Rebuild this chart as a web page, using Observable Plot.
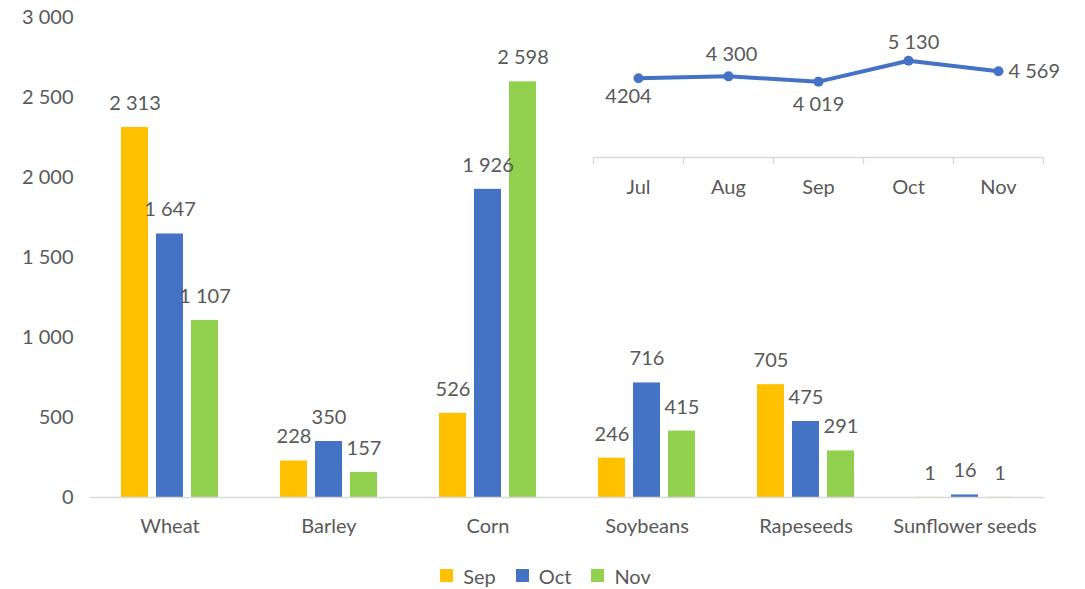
<!DOCTYPE html>
<html>
<head>
<meta charset="utf-8">
<script src="https://cdn.jsdelivr.net/npm/d3@7"></script>
<script src="https://cdn.jsdelivr.net/npm/@observablehq/plot@0.6"></script>
<style>
  html, body { margin: 0; padding: 0; background: #fff; }
  #wrap { position: relative; width: 1085px; height: 589px; font-family: Lato, "Open Sans", sans-serif; }
  #inset { position: absolute; left: 583px; top: 20px; }
  #legend { position: absolute; left: 0; top: 559px; width: 1085px; padding-left: 26px; box-sizing: border-box; display: flex; justify-content: center; }
</style>
</head>
<body>
<div id="wrap"><div id="main"></div><div id="inset"></div><div id="legend"></div></div>
<script>
// ---- data ----
const crops = ["Wheat", "Barley", "Corn", "Soybeans", "Rapeseeds", "Sunflower seeds"];
const months = ["Sep", "Oct", "Nov"];
const sepValues = [2313, 228, 526, 246, 705, 1];
const octValues = [1647, 350, 1926, 716, 475, 16];
const novValues = [1107, 157, 2598, 415, 291, 1];
const yTicks = [0, 500, 1000, 1500, 2000, 2500, 3000];
const colors = ["#FFC000", "#4472C4", "#92D050"];

const insetMonths = ["Jul", "Aug", "Sep", "Oct", "Nov"];
const insetValues = [4204, 4300, 4019, 5130, 4569];
const insetLabels = ["4204", "4 300", "4 019", "5 130", "4 569"];

// ---- build table ----
const series = [sepValues, octValues, novValues];
const rows = [];
crops.forEach((c, i) => months.forEach((m, j) => rows.push({crop: c, month: m, value: series[j][i]})));

const loc = d3.formatLocale({decimal: ".", thousands: " ", grouping: [3], currency: ["", ""]});
const fmt = loc.format(",");
const textColor = "#595959";
const font = "Lato, 'Open Sans', sans-serif";
const fs = 20;

const main = Plot.plot({
  width: 1085,
  height: 545,
  marginLeft: 88,
  marginRight: 40,
  marginTop: 17,
  marginBottom: 48,
  style: {fontFamily: font, fontSize: fs + "px", color: textColor, background: "transparent"},
  fx: {domain: crops, padding: 0, label: null, axis: "bottom", tickSize: 0, tickPadding: 21},
  x: {domain: months, paddingInner: 0.24, paddingOuter: 0.87, axis: null},
  y: {domain: [0, 3000], ticks: yTicks, tickFormat: fmt, tickSize: 0, tickPadding: 17, label: null, grid: false},
  color: {domain: months, range: colors},
  marks: [
    Plot.barY(rows, {fx: "crop", x: "month", y: "value", fill: "month"}),
    Plot.ruleY([0], {stroke: "#d9d9d9", strokeWidth: 1.5}),
    Plot.text(rows, {fx: "crop", x: "month", y: "value", text: d => fmt(d.value), dy: -24, fill: textColor, fontSize: fs})
  ]
});
document.getElementById("main").appendChild(main);

// ---- inset line chart ----
const insetRows = insetMonths.map((m, i) => ({month: m, idx: i + 0.5, value: insetValues[i], label: insetLabels[i]}));
const inset = Plot.plot({
  width: 470,
  height: 180,
  marginLeft: 10,
  marginRight: 10,
  marginTop: 20,
  marginBottom: 43,
  style: {fontFamily: font, fontSize: fs + "px", color: textColor, background: "transparent", overflow: "visible"},
  x: {domain: [0, insetMonths.length], axis: null, label: null},
  y: {domain: [0, 6200], axis: null},
  marks: [
    Plot.ruleY([0], {stroke: "#d9d9d9", strokeWidth: 1.5}),
    Plot.axisX(d3.range(insetMonths.length + 1), {tickSize: 7, tickFormat: () => "", label: null, stroke: "#d9d9d9", strokeWidth: 1.5}),
    Plot.text(insetRows, {x: "idx", y: 0, text: "month", dy: 30, fill: textColor, fontSize: fs}),
    Plot.line(insetRows, {x: "idx", y: "value", stroke: "#4472C4", strokeWidth: 4}),
    Plot.dot(insetRows, {x: "idx", y: "value", fill: "#4472C4", r: 5}),
    Plot.text(insetRows, {filter: (d, i) => i === 0, x: "idx", y: "value", text: "label", dy: 18, dx: -10, fill: textColor, fontSize: fs}),
    Plot.text(insetRows, {filter: (d, i) => i === 2, x: "idx", y: "value", text: "label", dy: 23, fill: textColor, fontSize: fs}),
    Plot.text(insetRows, {filter: (d, i) => i === 1, x: "idx", y: "value", text: "label", dy: -22, dx: 3, fill: textColor, fontSize: fs}),
    Plot.text(insetRows, {filter: (d, i) => i === 3, x: "idx", y: "value", text: "label", dy: -18, dx: 5, fill: textColor, fontSize: fs}),
    Plot.text(insetRows, {filter: (d, i) => i === 4, x: "idx", y: "value", text: "label", dx: 10, textAnchor: "start", fill: textColor, fontSize: fs})
  ]
});
document.getElementById("inset").appendChild(inset);

// ---- legend ----
const legend = Plot.legend({
  color: {domain: months, range: colors},
  swatchSize: 13,
  style: {fontFamily: font, fontSize: fs + "px", color: textColor, background: "transparent"}
});
document.getElementById("legend").appendChild(legend);
</script>
</body>
</html>
